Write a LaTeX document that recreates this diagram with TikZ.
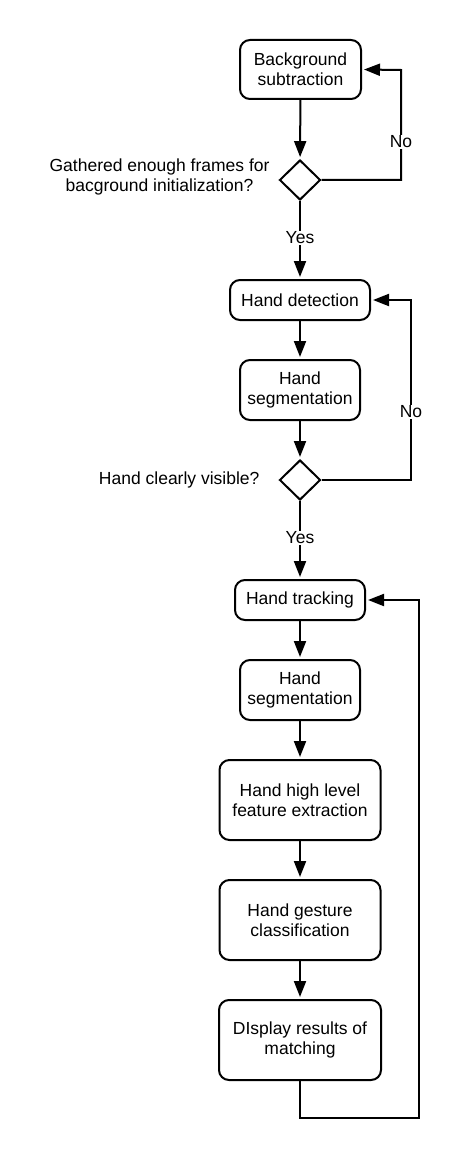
\documentclass[tikz,border=0pt]{standalone}
\usepackage{fontspec}
\setmainfont{Liberation Sans}
\usetikzlibrary{shapes.geometric,arrows.meta}
\begin{document}
\begin{tikzpicture}[x=1pt,y=-1pt,
  every node/.style={font=\fontsize{17.5}{20}\selectfont},
  box/.style={draw, line width=2pt, rounded corners=10pt, align=center, inner sep=0pt},
  dia/.style={draw, line width=2pt, diamond, minimum width=41pt, minimum height=40pt, inner sep=0pt},
  arr/.style={line width=2pt, shorten >=2pt, -{Triangle[length=16pt,width=12pt]}},
  lbl/.style={fill=white, inner sep=1pt},
  side/.style={align=center, anchor=east}]
\useasboundingbox (0,0) rectangle (462,1161);
\node[box, minimum width=121pt, minimum height=59pt] (b1) at (300.5,69.5) {Background\\subtraction};
\node[dia] (d1) at (300,180) {};
\node[side] (t1) at (273,177) {Gathered enough frames for\\bacground initialization?};
\node[box, minimum width=140pt, minimum height=40pt] (b2) at (300,300) {Hand detection};
\node[box, minimum width=120pt, minimum height=60pt] (b3) at (300,390) {Hand\\segmentation};
\node[dia] (d2) at (300,480) {};
\node[side] (t2) at (263,480) {Hand clearly visible?};
\node[box, minimum width=130pt, minimum height=40pt] (b4) at (300,600) {Hand tracking};
\node[box, minimum width=120pt, minimum height=60pt] (b5) at (300,690) {Hand\\segmentation};
\node[box, minimum width=161pt, minimum height=80pt] (b6) at (300,800) {Hand high level\\feature extraction};
\node[box, minimum width=161pt, minimum height=80pt] (b7) at (300,920) {Hand gesture\\classification};
\node[box, minimum width=162pt, minimum height=80pt] (b8) at (300,1040) {DIsplay results of\\matching};
\coordinate (c1) at (401,180);
\coordinate (c2) at (401,70);
\coordinate (c3) at (411,480);
\coordinate (c4) at (411,300);
\coordinate (c5) at (300,1118);
\coordinate (c6) at (419,1118);
\coordinate (c7) at (419,600);
\draw[arr] (b1) -- (d1);
\draw[arr] (d1.east) -- (c1) -- node[lbl, pos=0.345] {No} (c2) -- (b1.east);
\draw[arr] (d1) -- node[lbl, pos=0.47] {Yes} (b2);
\draw[arr] (b2) -- (b3);
\draw[arr] (b3) -- (d2);
\draw[arr] (d2.east) -- (c3) -- node[lbl, pos=0.378] {No} (c4) -- (b2.east);
\draw[arr] (d2) -- node[lbl, pos=0.47] {Yes} (b4);
\draw[arr] (b4) -- (b5);
\draw[arr] (b5) -- (b6);
\draw[arr] (b6) -- (b7);
\draw[arr] (b7) -- (b8);
\draw[arr] (b8.south) -- (c5) -- (c6) -- (c7) -- (b4.east);
\end{tikzpicture}
\end{document}
